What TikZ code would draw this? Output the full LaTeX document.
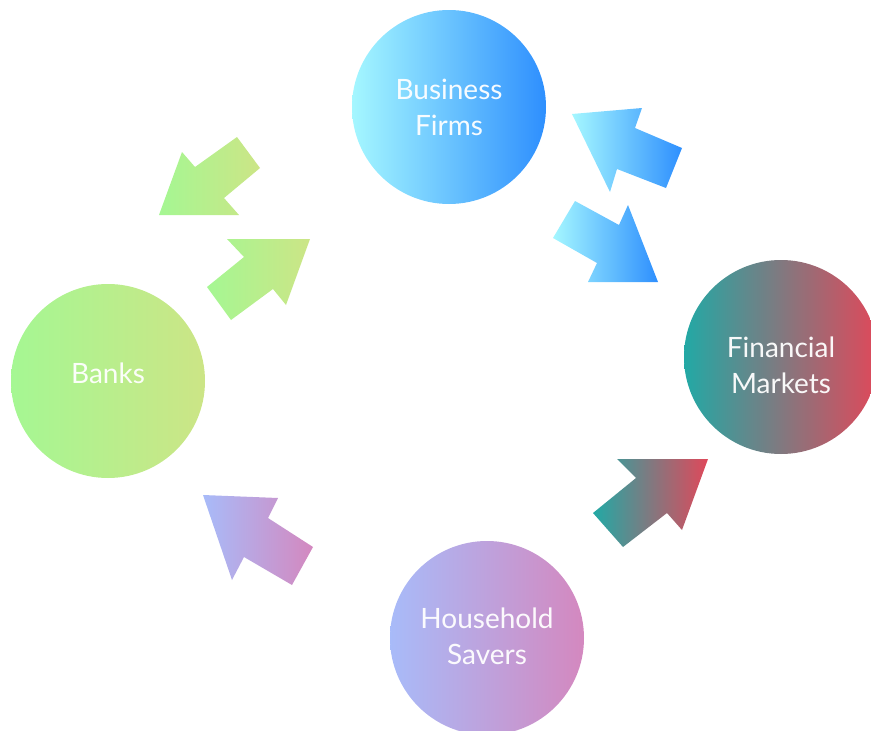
\documentclass[tikz,border=0pt]{standalone}
\usepackage{fontspec}
\setmainfont{Lato}
\usetikzlibrary{positioning}

% colours of the four groups, left and right end of each gradient
\definecolor{firmsL}{HTML}{A5F7FF}
\definecolor{firmsR}{HTML}{2E8FFE}
\definecolor{banksL}{HTML}{A5F793}
\definecolor{banksR}{HTML}{CCE586}
\definecolor{marketsL}{HTML}{22A9A5}
\definecolor{marketsR}{HTML}{E0485A}
\definecolor{saversL}{HTML}{A8BBF9}
\definecolor{saversR}{HTML}{D488BF}

\begin{document}
\begin{tikzpicture}[x=1pt, y=-1pt,
    bubble/.style={circle, minimum size=194pt, inner sep=0pt},
    bubbletext/.style={text=white, text opacity=0.95, align=center,
        font=\fontsize{28}{36}\selectfont},
    firms/.style={left color=firmsL, right color=firmsR},
    banks/.style={left color=banksL, right color=banksR},
    markets/.style={left color=marketsL, right color=marketsR},
    savers/.style={left color=saversL, right color=saversR}]

    \useasboundingbox (0,0) rectangle (871,731);

    % Draw the four circles
    \node[bubble, firms] (Firms) at (449,107) {};
    \node[bubble, banks] (Banks) at (108,381) {};
    \node[bubble, markets] (Markets) at (781,357) {};
    \node[bubble, savers] (Savers) at (487,638) {};

    % Write the names in the circles
    \node[bubbletext] (FirmsText) at (Firms) {Business\\Firms};
    \node[bubbletext, yshift=7.5pt] (BanksText) at (Banks) {Banks};
    \node[bubbletext, yshift=-8.5pt] (MarketsText) at (Markets) {Financial\\Markets};
    \node[bubbletext, yshift=2pt] (SaversText) at (Savers) {Household\\Savers};

    % Draw the arrows between banks and firms
    \shade[banks] (159,215) -- (239,215) -- (224,198) -- (260,168)
        -- (237,137) -- (195,167) -- (182,152) -- cycle;
    \shade[banks] (310,239) -- (227,239) -- (244,257) -- (207,287)
        -- (231,320) -- (273,289) -- (286,305) -- cycle;

    % Draw the arrows between firms and markets
    \shade[firms] (572,114) -- (642,108) -- (635,128) -- (682,148)
        -- (666,188) -- (617,169) -- (610,192) -- cycle;
    \shade[firms] (658,282) -- (588,282) -- (597,263) -- (553,238)
        -- (575,201) -- (619,225) -- (628,205) -- cycle;

    % Draw the arrows leaving the savers
    \shade[savers] (203,495) -- (278,498) -- (268,518) -- (313,547)
        -- (292,585) -- (244,557) -- (232,580) -- cycle;
    \shade[markets] (708,459) -- (617,459) -- (636,478) -- (593,513)
        -- (623,547) -- (667,513) -- (682,530) -- cycle;

\end{tikzpicture}
\end{document}
